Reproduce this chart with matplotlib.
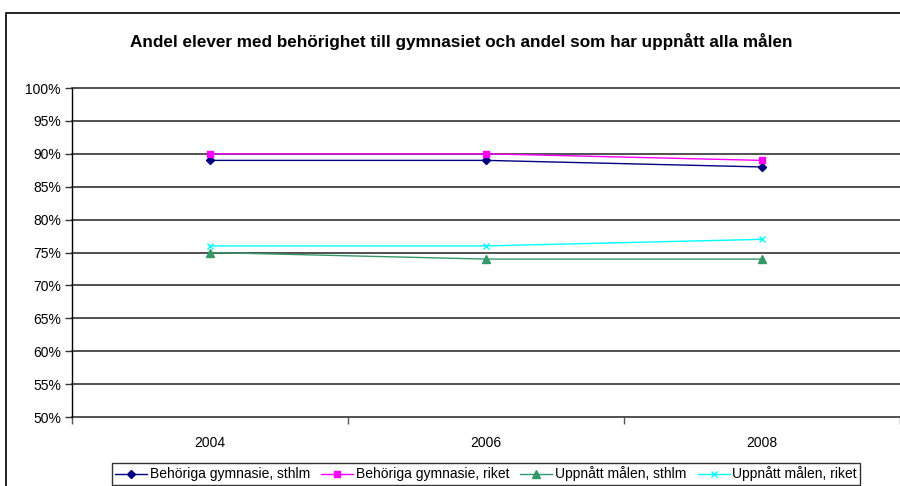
import numpy as np
import matplotlib
matplotlib.use("Agg")
import matplotlib.pyplot as plt
from matplotlib.patches import Rectangle
from matplotlib.ticker import FixedLocator

plt.rcParams['font.family'] = ['Liberation Sans', 'DejaVu Sans']

# data
years = ["2004", "2006", "2008"]
beh_sthlm = [89, 89, 88]
beh_riket = [90, 90, 89]
upp_sthlm = [75, 74, 74]
upp_riket = [76, 76, 77]
yticks = list(range(50, 101, 5))

fig = plt.figure(figsize=(9, 4.86), dpi=100)
ax = fig.add_axes([72/900, 1-417/486, 1-72/900, (417-88)/486])

x = np.arange(len(years))
ax.plot(x, beh_sthlm, color="#000080", lw=1, marker="D", ms=4, label="Behöriga gymnasie, sthlm")
ax.plot(x, beh_riket, color="#FF00FF", lw=1, marker="s", ms=5, label="Behöriga gymnasie, riket")
ax.plot(x, upp_sthlm, color="#339966", lw=1, marker="^", ms=6, label="Uppnått målen, sthlm")
ax.plot(x, upp_riket, color="#00FFFF", lw=1, marker="x", ms=4, mew=1, label="Uppnått målen, riket")

ax.set_xlim(-0.5, len(years)-0.5)
ax.set_ylim(50, 100)
ax.set_yticks(yticks)
ax.set_yticklabels([f"{v}%" for v in yticks], fontsize=10)
ax.set_xticks(x)
ax.set_xticklabels(years, fontsize=10)
ax.tick_params(axis="x", length=0, pad=14)
ax.xaxis.set_minor_locator(FixedLocator(np.arange(-0.5, len(years), 1.0)))
ax.tick_params(axis="x", which="minor", length=5, width=1, color="#555555", direction="out")
ax.tick_params(axis="y", length=5, width=1, color="#333333", direction="out", pad=3)

for v in yticks:
    ax.axhline(v, color="#333333", lw=1.2, zorder=0, clip_on=False)
for s in ["top", "right", "bottom"]:
    ax.spines[s].set_visible(False)
ax.spines["left"].set_color("black")
ax.spines["left"].set_linewidth(1)

fig.text(0.512, 1-42/486, "Andel elever med behörighet till gymnasiet och andel som har uppnått alla målen",
         ha="center", va="center", fontsize=12.3, fontweight="bold")

# outer chart frame
fig.patches.append(Rectangle((6/900, -0.1), 2, 1-13/486+0.1, transform=fig.transFigure,
                             fill=False, edgecolor="black", lw=1.2))

leg = fig.legend(loc="center", bbox_to_anchor=(486/900, 1-474/486), ncol=4, fontsize=10,
                 frameon=True, fancybox=False, edgecolor="black", handlelength=2.3,
                 handletextpad=0.2, columnspacing=0.8, borderpad=0.25)
leg.get_frame().set_linewidth(1)

fig.savefig("out.png", dpi=100)
